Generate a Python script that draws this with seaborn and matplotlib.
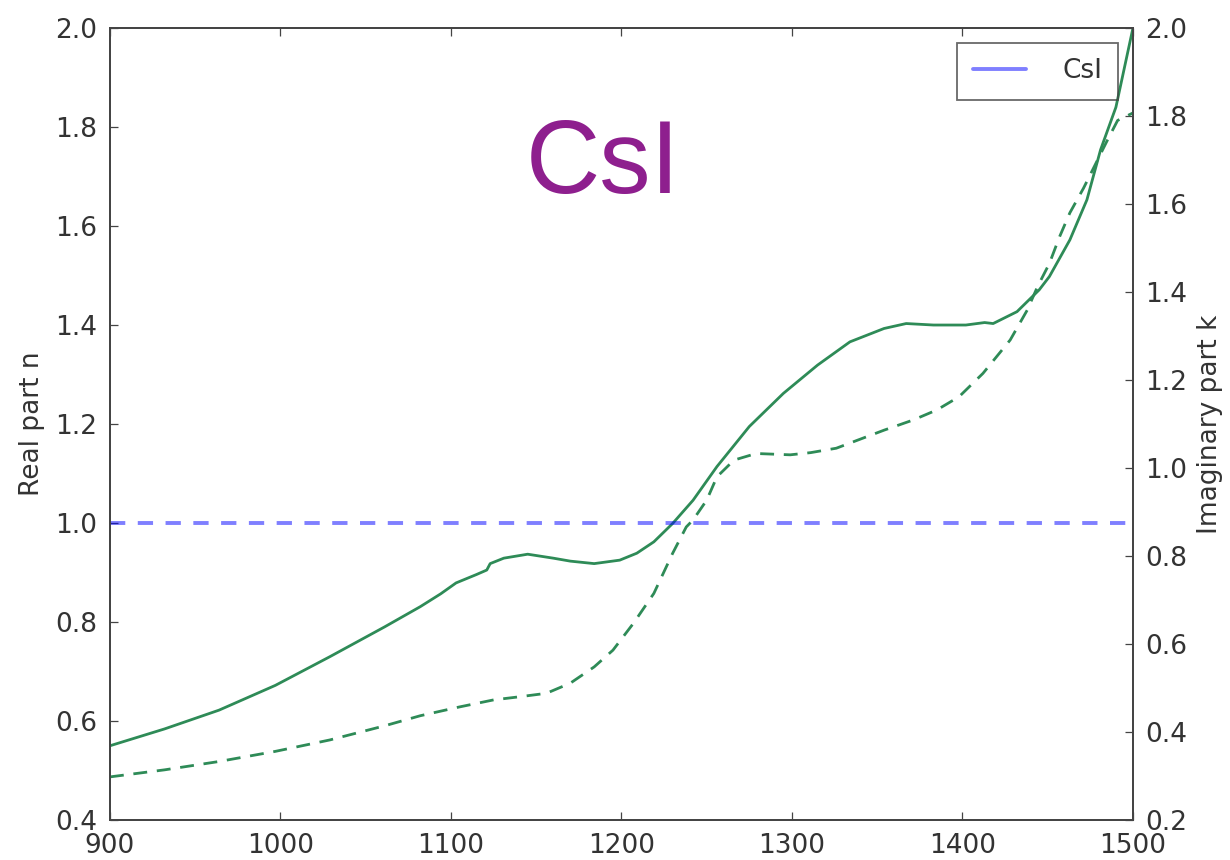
import matplotlib
matplotlib.use("Agg")
import matplotlib.pyplot as plt
from matplotlib.lines import Line2D
import seaborn as sns
import pandas as pd

# Refractive index of CsI: real part n (left axis) and imaginary part k (right axis)
wavelength_n = [900, 932, 964, 997, 1029, 1061, 1082, 1094, 1103, 1115, 1121, 1123, 1131,
                1145, 1160, 1170, 1184, 1199, 1209, 1219, 1230, 1242, 1256, 1275, 1295,
                1315, 1334, 1354, 1367, 1383, 1402, 1413, 1418, 1432, 1445, 1451, 1463,
                1473, 1481, 1490, 1500]
real_n = [0.550, 0.584, 0.622, 0.672, 0.730, 0.790, 0.831, 0.857, 0.879, 0.896, 0.905, 0.918,
          0.929, 0.937, 0.929, 0.923, 0.918, 0.925, 0.939, 0.962, 0.999, 1.046, 1.114, 1.195,
          1.262, 1.319, 1.366, 1.393, 1.403, 1.400, 1.400, 1.405, 1.403, 1.427, 1.471, 1.498,
          1.572, 1.653, 1.754, 1.840, 2.000]

wavelength_k = [900, 932, 964, 997, 1029, 1061, 1082, 1105, 1125, 1140, 1156, 1170, 1184,
                1195, 1207, 1219, 1230, 1238, 1242, 1250, 1256, 1266, 1279, 1299, 1311,
                1326, 1354, 1371, 1385, 1398, 1412, 1428, 1438, 1444, 1451, 1457, 1463,
                1471, 1485, 1491, 1500]
imag_k = [0.298, 0.314, 0.333, 0.356, 0.382, 0.414, 0.437, 0.457, 0.473, 0.480, 0.488, 0.511,
          0.548, 0.586, 0.647, 0.715, 0.806, 0.866, 0.882, 0.927, 0.980, 1.018, 1.033, 1.030,
          1.035, 1.045, 1.086, 1.109, 1.132, 1.162, 1.215, 1.291, 1.359, 1.412, 1.465, 1.526,
          1.580, 1.636, 1.745, 1.790, 1.807]

vacuum_n = 1.0
material = "CsI"

x_ticks = [900, 1000, 1100, 1200, 1300, 1400, 1500]
left_ticks = [0.4, 0.6, 0.8, 1.0, 1.2, 1.4, 1.6, 1.8, 2.0]
right_ticks = [0.2, 0.4, 0.6, 0.8, 1.0, 1.2, 1.4, 1.6, 1.8, 2.0]

df_n = pd.DataFrame({"wavelength": wavelength_n, "n": real_n})
df_k = pd.DataFrame({"wavelength": wavelength_k, "k": imag_k})

sns.set_theme(style="ticks")
plt.rcParams["font.family"] = ["DejaVu Sans"]
plt.rcParams["lines.scale_dashes"] = False

green = "#2e8b57"
spine_col = "#444444"
text_col = "#333333"
fs = 19

fig = plt.figure(figsize=(12.3, 8.6), dpi=100)
ax = fig.add_axes([0.0894, 0.0465, 0.8317, 0.9209])
ax2 = ax.twinx()

sns.lineplot(data=df_n, x="wavelength", y="n", ax=ax, color=green, linewidth=2.0)
ax.axhline(vacuum_n, color="blue", alpha=0.5, linewidth=2.8, dashes=(11, 9))

sns.lineplot(data=df_k, x="wavelength", y="k", ax=ax2, color=green, linewidth=2.0)
ax2.lines[0].set_dashes((10, 7))

ax.set_xlim(900, 1500)
ax.set_ylim(0.4, 2.0)
ax2.set_ylim(0.2, 2.0)
ax.set_xticks(x_ticks)
ax.set_yticks(left_ticks)
ax2.set_yticks(right_ticks)
ax.set_xticklabels([str(t) for t in x_ticks])
ax.set_yticklabels([f"{t:.1f}" for t in left_ticks])
ax2.set_yticklabels([f"{t:.1f}" for t in right_ticks])

ax.set_xlabel("")
ax.set_ylabel("Real part n", fontsize=fs, color=text_col)
ax2.set_ylabel("Imaginary part k", fontsize=fs, color=text_col)
ax.yaxis.set_label_coords(-0.0635, 0.5)
ax2.yaxis.set_label_coords(1.0626, 0.5)

for a in (ax, ax2):
    for s in a.spines.values():
        s.set_visible(True)
        s.set_color(spine_col)
        s.set_linewidth(1.3)
    a.tick_params(direction="in", length=6, width=0.9, color=spine_col,
                  labelsize=fs, labelcolor=text_col, pad=9)
ax.tick_params(axis="x", top=True, bottom=True)
ax.tick_params(axis="y", left=True, right=False)
ax2.tick_params(axis="y", left=False, right=True)

ax.text(0.482, 0.7917, material, transform=ax.transAxes, ha="center", va="baseline",
        fontsize=74, color="#8e1f8e", family=["Liberation Sans", "DejaVu Sans"])

handle = Line2D([], [], color="blue", alpha=0.5, linewidth=2.8)
leg = ax2.legend([handle], [material], loc="upper right", fontsize=fs, fancybox=False,
                 frameon=True, facecolor="none", edgecolor=spine_col, framealpha=None,
                 handlelength=2.0, handletextpad=1.4, borderpad=0.6,
                 borderaxespad=0.55)
leg.get_frame().set_linewidth(1.3)
for t in leg.get_texts():
    t.set_color(text_col)

fig.savefig("out.png", dpi=100)
